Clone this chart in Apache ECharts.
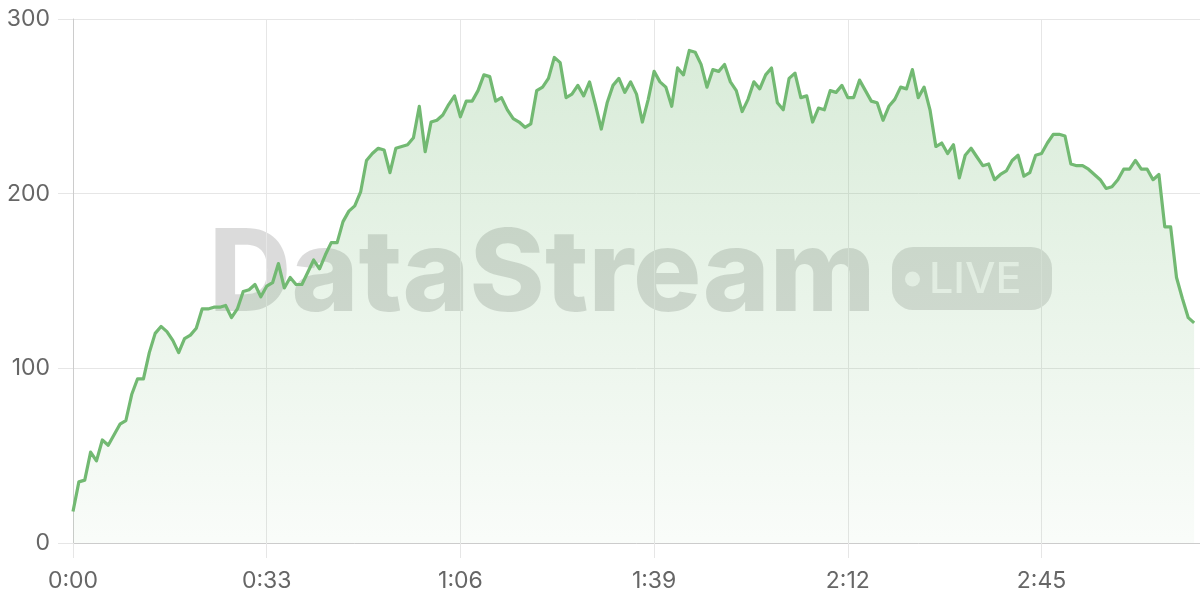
<!DOCTYPE html>
<html>
<head>
<meta charset="utf-8">
<script src="https://cdn.jsdelivr.net/npm/echarts@6/dist/echarts.min.js"></script>
<style>
  html, body { margin: 0; padding: 0; background: #fff; }
  #chart { width: 1200px; height: 600px; }
</style>
</head>
<body>
<div id="chart"></div>
<script>
// ---- data ----
const stepSeconds = 1;
const values = [
  18, 35, 36, 52, 47, 59, 56, 62, 68, 70,
  85, 94, 94, 109, 120, 124, 121, 116, 109, 117,
  119, 123, 134, 134, 135, 135, 136, 129, 134, 144,
  145, 148, 141, 147, 149, 160, 146, 152, 148, 148,
  155, 162, 157, 165, 172, 172, 184, 190, 193, 201,
  219, 223, 226, 225, 212, 226, 227, 228, 232, 250,
  224, 241, 242, 245, 251, 256, 244, 253, 253, 259,
  268, 267, 253, 255, 248, 243, 241, 238, 240, 259,
  261, 266, 278, 275, 255, 257, 262, 256, 264, 251,
  237, 252, 262, 266, 258, 264, 257, 241, 254, 270,
  264, 261, 250, 272, 268, 282, 281, 274, 261, 271,
  270, 274, 264, 259, 247, 254, 264, 260, 268, 272,
  252, 248, 266, 269, 255, 256, 241, 249, 248, 259,
  258, 262, 255, 255, 265, 259, 253, 252, 242, 250,
  254, 261, 260, 271, 255, 261, 248, 227, 229, 223,
  228, 209, 222, 226, 221, 216, 217, 208, 211, 213,
  219, 222, 210, 212, 222, 223, 229, 234, 234, 233,
  217, 216, 216, 214, 211, 208, 203, 204, 208, 214,
  214, 219, 214, 214, 208, 211, 181, 181, 152, 140,
  129, 126
];
const xTickValues = [0, 33, 66, 99, 132, 165];
const xTickLabels = ['0:00', '0:33', '1:06', '1:39', '2:12', '2:45'];
const yTickValues = [0, 100, 200, 300];
const xMax = 192;
const watermarkTitle = 'DataStream';
const watermarkBadge = 'LIVE';

// ---- chart ----
const seriesData = values.map((v, i) => [i * stepSeconds, v]);
const chart = echarts.init(document.getElementById('chart'), null, { renderer: 'canvas' });
const labelFont = 'Inter, "Noto Sans", sans-serif';

chart.setOption({
  backgroundColor: '#ffffff',
  animation: false,
  grid: { left: 73, right: 0, top: 19, bottom: 57, containLabel: false },
  xAxis: {
    type: 'value',
    min: 0,
    max: xMax,
    interval: 33,
    axisLine: { show: true, lineStyle: { color: '#cccccc', width: 1 } },
    axisTick: { show: true, length: 15, lineStyle: { color: '#e6e6e6' } },
    splitLine: { show: true, showMaxLine: false, lineStyle: { color: '#e6e6e6', width: 1 } },
    axisLabel: {
      margin: 27,
      color: '#666666',
      fontSize: 23,
      fontFamily: labelFont,
      showMaxLabel: false,
      formatter: function (v) {
        const idx = xTickValues.indexOf(v);
        return idx >= 0 ? xTickLabels[idx] : '';
      }
    }
  },
  yAxis: {
    type: 'value',
    min: yTickValues[0],
    max: yTickValues[yTickValues.length - 1],
    interval: 100,
    axisLine: { show: true, lineStyle: { color: '#cccccc', width: 1 } },
    axisTick: { show: true, length: 15, lineStyle: { color: '#e6e6e6' } },
    splitLine: { show: true, lineStyle: { color: '#e6e6e6', width: 1 } },
    axisLabel: {
      margin: 23,
      color: '#666666',
      fontSize: 23,
      fontFamily: labelFont
    }
  },
  graphic: [
    {
      type: 'text', z: -1, x: 209, y: 277,
      style: {
        text: watermarkTitle,
        font: '800 114px Inter, "Open Sans", sans-serif',
        fill: 'rgba(0,0,0,0.14)',
        textAlign: 'left',
        textVerticalAlign: 'middle'
      }
    },
    {
      type: 'rect', z: -1,
      shape: { x: 892, y: 247, width: 160, height: 63, r: 21 },
      style: { fill: 'rgba(0,0,0,0.13)' }
    },
    {
      type: 'circle', z: -1,
      shape: { cx: 912.5, cy: 279, r: 7.5 },
      style: { fill: 'rgba(255,255,255,0.75)' }
    },
    {
      type: 'text', z: -1, x: 929, y: 280,
      style: {
        text: watermarkBadge,
        font: '500 43px Inter, "Noto Sans", sans-serif',
        fill: 'rgba(255,255,255,0.75)',
        textAlign: 'left',
        textVerticalAlign: 'middle'
      }
    }
  ],
  series: [{
    type: 'line',
    data: seriesData,
    showSymbol: false,
    symbol: 'none',
    lineStyle: { color: '#72b972', width: 3.2, join: 'round' },
    itemStyle: { color: '#72b972' },
    areaStyle: {
      color: new echarts.graphic.LinearGradient(0, 0, 0, 1, [
        { offset: 0, color: 'rgba(118,186,118,0.40)' },
        { offset: 1, color: 'rgba(118,186,118,0.06)' }
      ])
    }
  }]
});
</script>
</body>
</html>
